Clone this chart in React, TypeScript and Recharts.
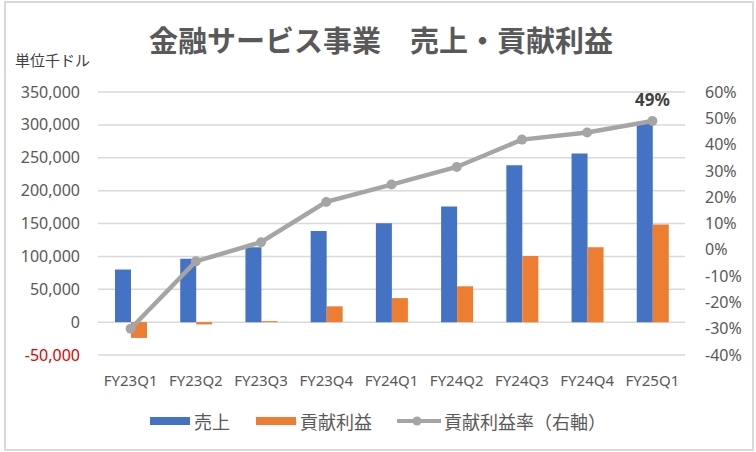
import {
  ComposedChart,
  Bar,
  Line,
  XAxis,
  YAxis,
  CartesianGrid,
  LabelList,
} from 'recharts';

const quarters = ['FY23Q1', 'FY23Q2', 'FY23Q3', 'FY23Q4', 'FY24Q1', 'FY24Q2', 'FY24Q3', 'FY24Q4', 'FY25Q1'];
const sales = [80000, 96500, 114000, 138500, 150500, 176000, 238500, 256500, 302000];
const profit = [-24000, -3500, 1500, 24000, 36500, 54500, 100500, 114000, 148500];
const rate = [-30, -4.4, 2.9, 18.2, 24.8, 31.5, 41.9, 44.6, 49];

const leftTicks = [-50000, 0, 50000, 100000, 150000, 200000, 250000, 300000, 350000];
const rightTicks = [-40, -30, -20, -10, 0, 10, 20, 30, 40, 50, 60];

const data = quarters.map((q, i) => ({
  q,
  sales: sales[i],
  profit: profit[i],
  rate: rate[i],
}));

const FONT = '"Noto Sans", "Noto Sans CJK JP", sans-serif';
const TEXT = '#595959';

const LeftTick = (props: any) => {
  const { x, y, payload } = props;
  const v = payload.value as number;
  return (
    <text
      x={x}
      y={y}
      dy="0.35em"
      textAnchor="end"
      fontSize={16}
      fontFamily={FONT}
      fill={v < 0 ? '#e00000' : TEXT}
    >
      {v.toLocaleString('en-US')}
    </text>
  );
};

const LastLabel = (props: any) => {
  const { x, y, index, value } = props;
  if (index !== rate.length - 1) return null;
  return (
    <text x={x} y={y - 15} textAnchor="middle" fontSize={17} fontWeight="bold" fontFamily={FONT} fill="#404040">
      {value}%
    </text>
  );
};

const LegendBox = () => (
  <div style={{ display: 'flex', alignItems: 'center', fontFamily: FONT, fontSize: 18, color: TEXT }}>
    <span style={{ display: 'inline-block', width: 40, height: 8, background: '#4472C4', marginRight: 4 }} />
    <span style={{ marginRight: 26 }}>売上</span>
    <span style={{ display: 'inline-block', width: 40, height: 8, background: '#ED7D31', marginRight: 4 }} />
    <span style={{ marginRight: 24 }}>貢献利益</span>
    <svg width={46} height={12} style={{ marginRight: 2 }}>
      <line x1={1} y1={6} x2={45} y2={6} stroke="#A5A5A5" strokeWidth={4} />
      <circle cx={21} cy={6} r={4.5} fill="#A5A5A5" />
    </svg>
    <span>貢献利益率（右軸）</span>
  </div>
);

export default function App() {
  return (
    <div style={{ position: 'absolute', left: 0, top: 0, width: 756, height: 452, background: '#fff' }}>
      <div
        style={{
          position: 'absolute',
          left: 4,
          top: 1,
          width: 750,
          height: 450,
          border: '2px solid #d9d9d9',
          boxSizing: 'border-box',
        }}
      />
      <div
        style={{
          position: 'absolute',
          left: 0,
          top: 22,
          width: 756,
          textAlign: 'center',
          fontFamily: FONT,
          fontSize: 29,
          fontWeight: 'bold',
          color: TEXT,
          lineHeight: '38px',
          paddingLeft: 6,
          boxSizing: 'border-box',
        }}
      >
        金融サービス事業　売上・貢献利益
      </div>
      <div
        style={{
          position: 'absolute',
          left: 15,
          top: 49,
          fontFamily: FONT,
          fontSize: 15,
          color: '#404040',
          lineHeight: '22px',
        }}
      >
        単位千ドル
      </div>
      <div style={{ position: 'absolute', left: 0, top: 0 }}>
        <ComposedChart
          width={756}
          height={452}
          data={data}
          margin={{ top: 92, right: 0, bottom: 67, left: 0 }}
          barGap={0}
        >
          <CartesianGrid yAxisId="left" vertical={false} stroke="#d9d9d9" strokeWidth={1.5} />
          <XAxis
            dataKey="q"
            height={30}
            axisLine={false}
            tickLine={false}
            tickMargin={14}
            interval={0}
            tick={{ fontSize: 15, fill: TEXT, fontFamily: FONT }}
          />
          <YAxis
            yAxisId="left"
            width={98}
            domain={[-50000, 350000]}
            ticks={leftTicks}
            axisLine={false}
            tickLine={false}
            tickMargin={12}
            tick={<LeftTick />}
          />
          <YAxis
            yAxisId="right"
            orientation="right"
            width={71}
            domain={[-40, 60]}
            ticks={rightTicks}
            axisLine={false}
            tickLine={false}
            tickMargin={14}
            tickFormatter={(v: number) => `${v}%`}
            tick={{ fontSize: 16, fill: TEXT, fontFamily: FONT, textAnchor: 'start' }}
          />
          <Bar yAxisId="left" dataKey="sales" name="売上" fill="#4472C4" barSize={16} isAnimationActive={false} />
          <Bar yAxisId="left" dataKey="profit" name="貢献利益" fill="#ED7D31" barSize={16} isAnimationActive={false} />
          <Line
            yAxisId="right"
            dataKey="rate"
            name="貢献利益率（右軸）"
            stroke="#A5A5A5"
            strokeWidth={4.5}
            dot={{ r: 5, fill: '#A5A5A5', stroke: '#A5A5A5', strokeWidth: 0 }}
            isAnimationActive={false}
          >
            <LabelList dataKey="rate" content={<LastLabel />} />
          </Line>
        </ComposedChart>
      </div>
      <div style={{ position: 'absolute', left: 150, top: 408 }}>
        <LegendBox />
      </div>
    </div>
  );
}
